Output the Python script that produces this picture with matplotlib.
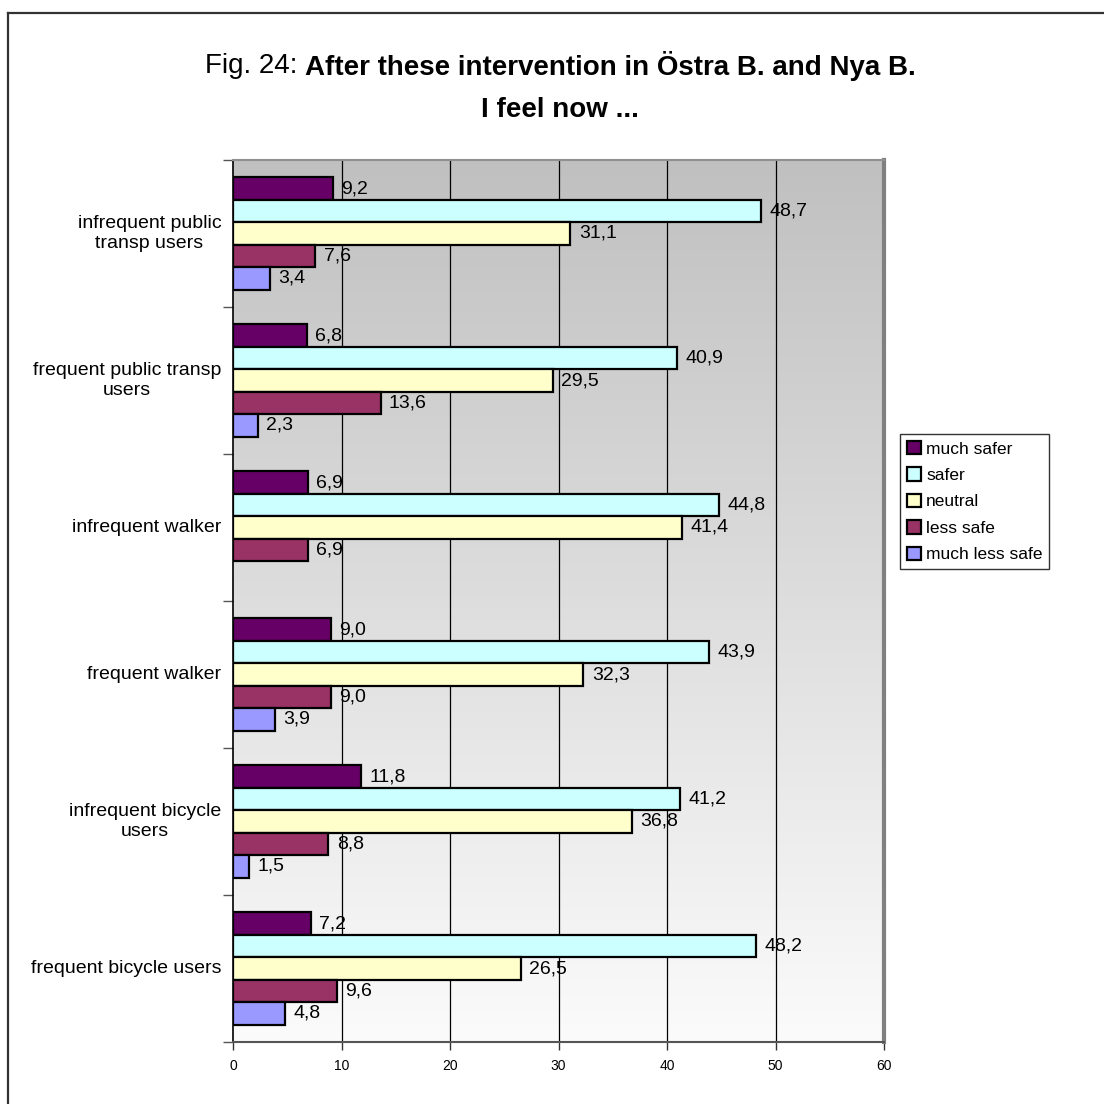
import numpy as np
import matplotlib
matplotlib.use("Agg")
import matplotlib.pyplot as plt
from matplotlib.patches import Patch
from matplotlib.lines import Line2D

# categories, top to bottom
categories = ["infrequent public\ntransp users", "frequent public transp\nusers",
              "infrequent walker", "frequent walker",
              "infrequent bicycle\nusers", "frequent bicycle users"]
series = ["much safer", "safer", "neutral", "less safe", "much less safe"]
much_safer = [9.2, 6.8, 6.9, 9.0, 11.8, 7.2]
safer = [48.7, 40.9, 44.8, 43.9, 41.2, 48.2]
neutral = [31.1, 29.5, 41.4, 32.3, 36.8, 26.5]
less_safe = [7.6, 13.6, 6.9, 9.0, 8.8, 9.6]
much_less_safe = [3.4, 2.3, np.nan, 3.9, 1.5, 4.8]
colors = ["#660066", "#CCFFFF", "#FFFFCC", "#993366", "#9999FF"]
xticks = [0, 10, 20, 30, 40, 50, 60]

W = 1104.0
fig = plt.figure(figsize=(11.04, 11.04), dpi=100)
ax = fig.add_axes([233 / W, 1 - 1042 / W, (884 - 233) / W, (1042 - 160) / W])

# gradient background of plot area
grad = np.linspace(192, 251, 256) / 255.0
img = np.dstack([grad, grad, grad]).reshape(256, 1, 3)
ax.imshow(img, extent=[0, 60, 5.5, -0.5], aspect="auto", origin="upper", zorder=0)

ax.set_xlim(0, 60)
ax.set_ylim(5.5, -0.5)

h = 0.1525
y = np.arange(len(categories))
data = [much_safer, safer, neutral, less_safe, much_less_safe]
for j, vals in enumerate(data):
    pos = y + (j - 2) * h
    for yy, v in zip(pos, vals):
        if np.isnan(v):
            continue
        ax.barh(yy, v, height=h, color=colors[j], edgecolor="black", linewidth=1.6, zorder=3)
        ax.annotate(f"{v:.1f}".replace(".", ","), (v, yy), xytext=(6, 0),
                    textcoords="offset points", va="center", ha="left",
                    fontsize=14, family="Liberation Sans", zorder=4)

for gx in xticks[1:-1]:
    ax.axvline(gx, color="black", lw=0.9, zorder=1)

ax.set_xticks(xticks)
ax.set_xticklabels([str(t) for t in xticks], fontsize=10, family="Liberation Sans")
ax.tick_params(axis="x", length=6, width=1, color="#333333", pad=6)
ax.set_yticks(np.arange(-0.5, 6, 1))
ax.set_yticklabels([])
ax.tick_params(axis="y", length=7, width=1, color="#555555")
for yy, lab in zip(y, categories):
    ax.text(-0.018, yy, lab, transform=ax.get_yaxis_transform(), ha="right", va="center",
            multialignment="center", fontsize=14, family="Liberation Sans")

ax.spines["left"].set_color("black")
ax.spines["left"].set_linewidth(1.2)
ax.spines["bottom"].set_color("#555555")
ax.spines["bottom"].set_linewidth(1.5)
ax.spines["top"].set_color("#909090")
ax.spines["top"].set_linewidth(1.5)
ax.spines["right"].set_color("#808080")
ax.spines["right"].set_linewidth(3)

handles = [Patch(facecolor=c, edgecolor="black", linewidth=1.6) for c in colors]
fig.legend(handles, series, loc="upper left", bbox_to_anchor=(900 / W, 1 - 434 / W),
           borderaxespad=0, frameon=True, fancybox=False, edgecolor="black",
           prop={"family": "Liberation Sans", "size": 12.5}, handlelength=0.8,
           handleheight=0.8, handletextpad=0.3, labelspacing=0.62, borderpad=0.4)

# title, centered, first part regular
fig.canvas.draw()
r = fig.canvas.get_renderer()
ty1 = 1 - 66 / W
t1 = fig.text(0, ty1, "Fig. 24: ", fontsize=20, family="Liberation Sans", va="center")
t2 = fig.text(0, ty1, "After these intervention in Östra B. and Nya B.", fontsize=20,
              family="Liberation Sans", weight="bold", va="center")
w1 = t1.get_window_extent(r).width / W
w2 = t2.get_window_extent(r).width / W
cx = 560 / W
x0 = cx - (w1 + w2) / 2
t1.set_x(x0)
t2.set_x(x0 + w1)
fig.text(cx, 1 - 110 / W, "I feel now ...", fontsize=20, family="Liberation Sans",
         weight="bold", ha="center", va="center")

# outer frame (top and left edges)
fig.add_artist(Line2D([8 / W, 1.0], [1 - 13 / W, 1 - 13 / W], color="#333333", lw=1.6))
fig.add_artist(Line2D([8 / W, 8 / W], [0, 1 - 13 / W], color="#333333", lw=1.6))

fig.savefig("out.png", dpi=100, facecolor="white")
